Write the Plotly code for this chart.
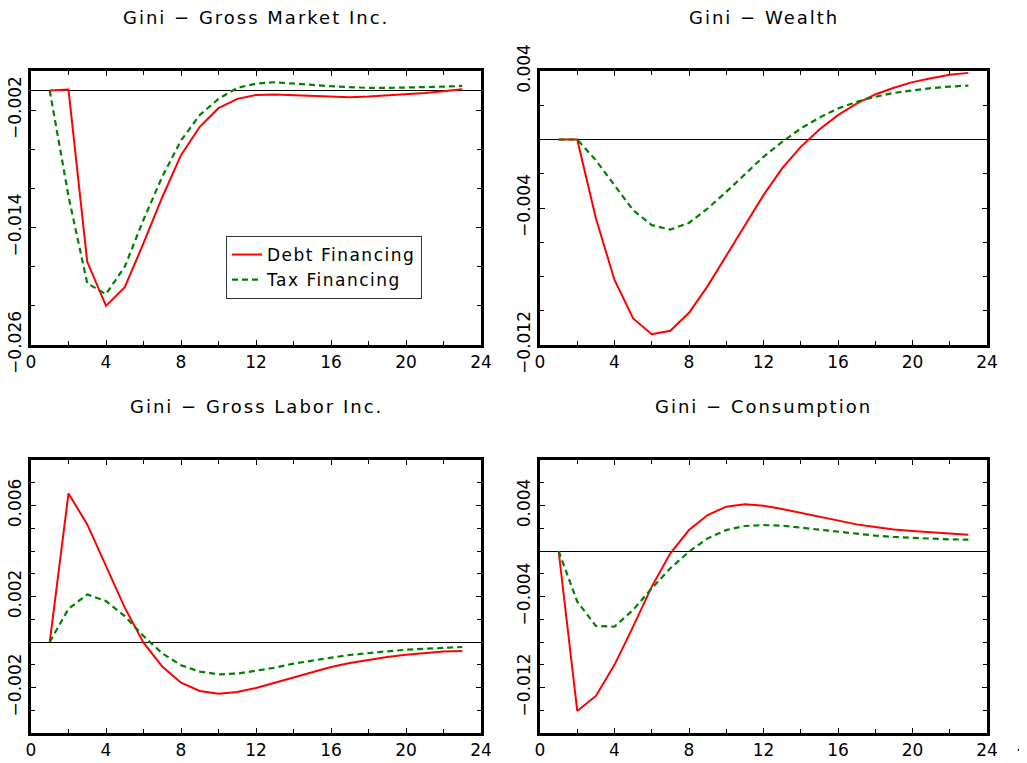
import plotly.graph_objects as go
from plotly.subplots import make_subplots

periods = list(range(1, 24))

titles = [
    "Gini \u2212 Gross Market Inc.",
    "Gini \u2212 Wealth",
    "Gini \u2212 Gross Labor Inc.",
    "Gini \u2212 Consumption",
]
legend_names = ["Debt Financing", "Tax Financing"]

# Gini of gross market income
market_debt = [0.0, 0.0001, -0.0175, -0.0220, -0.0201, -0.0156, -0.0109, -0.0066,
               -0.0037, -0.0018, -0.00085, -0.00044, -0.0004, -0.00047, -0.00058,
               -0.00064, -0.00068, -0.00061, -0.0005, -0.00037, -0.00024, -0.00007, 0.00014]
market_tax = [0.0, -0.0108, -0.0197, -0.0208, -0.0180, -0.0132, -0.0088, -0.0051,
              -0.0025, -0.00085, 0.00027, 0.00071, 0.00085, 0.00075, 0.00058,
              0.00044, 0.00034, 0.00027, 0.00027, 0.0003, 0.00034, 0.0004, 0.00047]

# Gini of wealth
wealth_debt = [0.0, 0.0, -0.0046, -0.0082, -0.01045, -0.01137, -0.01117, -0.01012,
               -0.00856, -0.00681, -0.005, -0.00325, -0.00169, -0.00043, 0.00058,
               0.00142, 0.0021, 0.00263, 0.00302, 0.00335, 0.00358, 0.00378, 0.00389]
wealth_tax = [0.0, 0.0, -0.00121, -0.00267, -0.00413, -0.005, -0.00526, -0.00487,
              -0.00403, -0.00306, -0.00202, -0.00101, -0.00014, 0.00064, 0.00128,
              0.00181, 0.0022, 0.00249, 0.00272, 0.00288, 0.003, 0.00309, 0.00315]

# Gini of gross labor income
labor_debt = [0.0, 0.00653, 0.00517, 0.00334, 0.00151, -0.00003, -0.00108, -0.00179,
              -0.00215, -0.00227, -0.0022, -0.00202, -0.00179, -0.00154, -0.0013,
              -0.0011, -0.00092, -0.00078, -0.00066, -0.00056, -0.00048, -0.00042, -0.0004]
labor_tax = [0.0, 0.00146, 0.00209, 0.0018, 0.00114, 0.00026, -0.0005, -0.00102,
             -0.0013, -0.00142, -0.00139, -0.00127, -0.00113, -0.00095, -0.00081,
             -0.00069, -0.00057, -0.00048, -0.00041, -0.00034, -0.00029, -0.00025, -0.00022]

# Gini of consumption
cons_debt = [0.0, -0.01406, -0.01274, -0.01001, -0.00665, -0.00313, -0.0002, 0.00184,
             0.00316, 0.0039, 0.0041, 0.00398, 0.00369, 0.00334, 0.00299,
             0.00264, 0.00234, 0.00211, 0.0019, 0.00176, 0.00164, 0.00152, 0.00143]
cons_tax = [0.0, -0.00445, -0.00659, -0.00665, -0.00518, -0.00328, -0.00152, -0.00006,
            0.00111, 0.00184, 0.0022, 0.00228, 0.00223, 0.00205, 0.00184,
            0.00167, 0.00149, 0.00135, 0.00123, 0.00114, 0.00108, 0.00102, 0.001]

series = [
    (market_debt, market_tax),
    (wealth_debt, wealth_tax),
    (labor_debt, labor_tax),
    (cons_debt, cons_tax),
]

# y ranges, labelled tick step, minor tick step and first labelled tick
y_ranges = [(-0.026, 0.002), (-0.012, 0.004), (-0.004, 0.008), (-0.016, 0.008)]
y_major = [0.012, 0.008, 0.004, 0.008]
y_minor = [0.004, 0.002, 0.001, 0.002]
y_tick0 = [-0.026, -0.012, -0.002, -0.012]

# the page body adds an 8px margin, so the figure is drawn 8px in
OFF = 8
W, H = 1027 - OFF, 763 - OFF
# panel boxes in page pixels: (left, right, top, bottom)
boxes = [(31, 481, 71, 345), (540, 987, 71, 345), (31, 481, 460, 733), (540, 987, 460, 733)]
title_y = [17, 17, 406, 406]

FONT = "DejaVu Sans"


def px_x(p):
    return (p - OFF) / W


def px_y(p):
    return 1 - (p - OFF) / H


def spaced(s, px):
    return f'<span style="letter-spacing:{px}px">{s}</span>'


fig = make_subplots(rows=2, cols=2)

for i, (debt, tax) in enumerate(series):
    r, c = i // 2 + 1, i % 2 + 1
    fig.add_trace(go.Scatter(x=periods, y=debt, mode="lines", name=spaced(legend_names[0], 1.5),
                             line=dict(color="#ff0000", width=2), showlegend=(i == 0)),
                  row=r, col=c)
    fig.add_trace(go.Scatter(x=periods, y=tax, mode="lines", name=spaced(legend_names[1], 1.5),
                             line=dict(color="#008000", width=2.2, dash="6px,4px"),
                             showlegend=(i == 0)),
                  row=r, col=c)

for i in range(4):
    l, rt, t, b = boxes[i]
    xa = "xaxis" if i == 0 else f"xaxis{i + 1}"
    ya = "yaxis" if i == 0 else f"yaxis{i + 1}"
    common = dict(showline=True, linecolor="black", linewidth=3, mirror="allticks",
                  ticks="inside", ticklen=5, tickwidth=1, tickcolor="black",
                  showgrid=False, automargin=False,
                  tickfont=dict(family=FONT, size=17, color="black"))
    fig.layout[xa].update(domain=[px_x(l), px_x(rt)], range=[0, 24], tick0=0, dtick=4,
                          zeroline=False,
                          minor=dict(ticks="inside", dtick=2, ticklen=4, tickcolor="black"),
                          **common)
    fig.layout[ya].update(domain=[px_y(b), px_y(t)], range=list(y_ranges[i]),
                          tick0=y_tick0[i], dtick=y_major[i], tickangle=-90,
                          tickformat=".3f", zeroline=True, zerolinecolor="black",
                          zerolinewidth=1,
                          minor=dict(ticks="inside", dtick=y_minor[i], tick0=y_tick0[i],
                                     ticklen=4, tickcolor="black"),
                          **common)
    fig.add_annotation(text=spaced(titles[i], 2), x=px_x((l + rt) / 2), y=px_y(title_y[i]),
                       xref="paper", yref="paper", xanchor="center", yanchor="middle",
                       showarrow=False, font=dict(family=FONT, size=18, color="black"))

fig.add_annotation(text=".", x=px_x(1019), y=px_y(744), xref="paper", yref="paper",
                   xanchor="center", yanchor="middle",
                   showarrow=False, font=dict(family=FONT, size=18, color="black"))

fig.update_layout(
    width=W, height=H,
    margin=dict(l=0, r=0, t=0, b=0, autoexpand=False),
    paper_bgcolor="white", plot_bgcolor="white",
    font=dict(family=FONT, color="black"),
    legend=dict(x=px_x(226), y=px_y(236), xanchor="left", yanchor="top",
                bgcolor="white", bordercolor="#333333", borderwidth=1,
                font=dict(family=FONT, size=17, color="black"),
                tracegroupgap=0, itemwidth=30),
)

fig.write_html("out.html")
